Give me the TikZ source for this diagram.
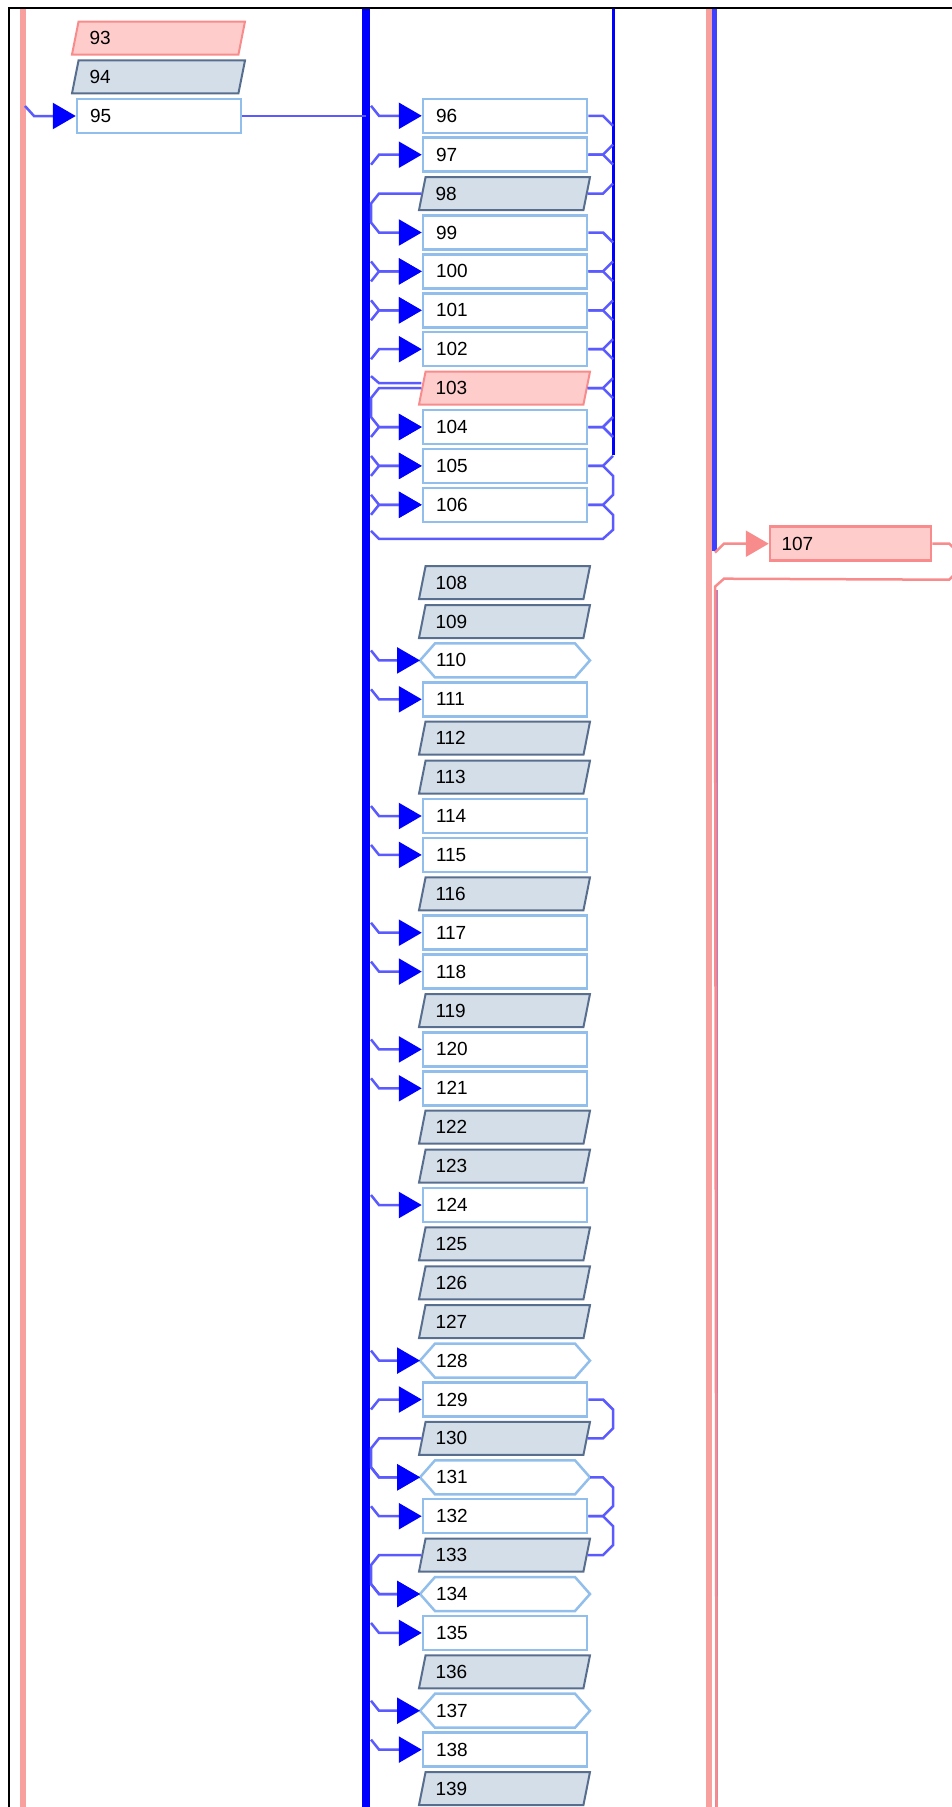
\documentclass[tikz,border=0pt]{standalone}
\usepackage{fontspec}
\setmainfont{Liberation Sans}
\usepackage{tikz}
\usetikzlibrary{arrows.meta,positioning,calc,shapes.geometric}

\definecolor{boxedge}{RGB}{146,190,236}
\definecolor{slate}{RGB}{88,110,142}
\definecolor{slatefill}{RGB}{212,222,233}
\definecolor{pinkedge}{RGB}{248,140,140}
\definecolor{pinkfill}{RGB}{255,204,204}
\definecolor{trunkpink}{RGB}{248,160,158}
\definecolor{linkblue}{RGB}{90,90,255}
\definecolor{mauve}{RGB}{196,120,180}

\begin{document}
\begin{tikzpicture}[x=1pt,y=-1pt,font=\fontsize{19}{22}\selectfont,
  box/.style={rectangle,draw=boxedge,fill=white,line width=2.5pt,
    minimum width=164pt,minimum height=34pt,inner sep=0pt,
    text width=138pt,align=left},
  para/.style={trapezium,draw=slate,fill=slatefill,line width=2pt,
    trapezium left angle=64,trapezium right angle=116,trapezium stretches body,
    minimum width=171pt,minimum height=33pt,inner sep=0pt,
    text width=138pt,align=left},
  pinkpara/.style={para,draw=pinkedge,fill=pinkfill},
  hexa/.style={rectangle,minimum width=170pt,minimum height=34pt,inner sep=0pt,
    outer sep=0pt,text width=138pt,align=left},
  hexedge/.style={draw=boxedge,line width=2.5pt,line join=miter},
  link/.style={draw=linkblue,line width=2.5pt},
  feed/.style={link,-{Triangle[length=23pt,width=26pt,color=blue]}},
  pinklink/.style={draw=pinkedge,line width=2.5pt}]

  \useasboundingbox (0,0) rectangle (952,1807);

  % trunks
  \draw[trunkpink,line width=6pt] (23,8) -- (23,1807);
  \draw[blue,line width=8pt] (366,8) -- (366,1807);
  \draw[blue,line width=3pt] (613,8) -- (613,455);
  \draw[trunkpink,line width=6pt] (709,8) -- (709,1807);
  \draw[blue!75,line width=5pt] (714.5,8) -- (714.5,551);
  \draw[mauve,line width=3pt] (716.5,590) -- (716.5,1807);

  \coordinate (bus) at (366,0);
  \coordinate (lane) at (371,0);
  \coordinate (knee) at (379,0);
  \coordinate (rtrunk) at (613,0);
  \coordinate (rknee) at (603,0);
  \coordinate (ltrunk) at (25,0);
  \coordinate (lknee) at (34,0);
  \coordinate (ptrunk) at (715,0);
  \coordinate (pknee) at (724,0);
  \coordinate (exit) at (716.5,1807);

  % left column
  \node[pinkpara,minimum width=173pt] (n93) at (158.5,38) {93};
  \node[para,minimum width=173pt] (n94) at (158.5,76.9) {94};
  \node[box] (n95) at (159,116) {95};

  % middle column
  \foreach \n in {96,97,99,100,101,102,104,105,106,111,114,115,117,118,120,121,124,129,132,135,138}
    \node[box] (n\n) at (505,{38+38.9*(\n-94)}) {\n};
  \foreach \n in {98,108,109,112,113,116,119,122,123,125,126,127,130,133,136,139}
    \node[para] (n\n) at (504.5,{38+38.9*(\n-94)}) {\n};
  \node[pinkpara] (n103) at (504.5,{38+38.9*9}) {103};
  \foreach \n in {110,128,131,134,137}{
    \node[hexa] (n\n) at (505,{38+38.9*(\n-94)}) {\n};
    \draw[hexedge] (n\n.west) -- ([xshift=15pt]n\n.north west) -- ([xshift=-15pt]n\n.north east)
      -- (n\n.east) -- ([xshift=-15pt]n\n.south east) -- ([xshift=15pt]n\n.south west) -- cycle;
  }

  % right column
  \node[box,draw=pinkedge,fill=pinkfill,minimum width=161pt] (n107) at (850.5,{38+38.9*13}) {107};

  % into 95 and on to the trunk
  \draw[feed] ([yshift=10pt]n95.west -| ltrunk) -- (n95.west -| lknee) -- (n95.west);
  \draw[link] (n95.east) -- (n95.east -| bus);

  % feeds from the trunk
  \foreach \n in {96,100,101,105,106,110,111,114,115,117,118,120,121,124,128,131,132,134,135,137,138}
    \draw[feed] ([yshift=10pt]n\n.west -| lane) -- (n\n.west -| knee) -- (n\n.west);
  \foreach \n in {97,100,101,102,104,105,106,129}
    \draw[feed] ([yshift=-10pt]n\n.west -| lane) -- (n\n.west -| knee) -- (n\n.west);
  \foreach \a/\b in {98/99,103/104,130/131,133/134}
    \draw[feed] (n\a.west) -- (n\a.west -| knee) -- ([yshift=-10pt]n\a.west -| lane)
      -- ([yshift=10pt]n\b.west -| lane) -- (n\b.west -| knee) -- (n\b.west);
  \draw[link] ([yshift=5pt]n103.west) -- ([yshift=5pt]n103.west -| knee) -- ([yshift=12pt]n103.west -| lane);

  % right side
  \foreach \n in {97,98,100,101,102,103,104,105}
    \draw[link] (n\n.east) -- (n\n.east -| rknee) -- ([yshift=10pt]n\n.east -| rtrunk);
  \foreach \n in {96,97,99,100,101,102,103,104}
    \draw[link] (n\n.east) -- (n\n.east -| rknee) -- ([yshift=-10pt]n\n.east -| rtrunk);
  \foreach \a/\b in {105/106,129/130,131/132,132/133}
    \draw[link] (n\a.east) -- (n\a.east -| rknee) -- ([yshift=-10pt]n\a.east -| rtrunk)
      -- ([yshift=10pt]n\b.east -| rtrunk) -- (n\b.east -| rknee) -- (n\b.east);
  \draw[link] (n106.east) -- (n106.east -| rknee) -- ([yshift=-10pt]n106.east -| rtrunk)
    -- ([yshift=-25pt]n106.east -| rtrunk) -- ([yshift=-34pt]n106.east -| rknee)
    -- ([yshift=-34pt]n106.west -| knee) -- ([yshift=-26pt]n106.west -| lane);

  % 107
  \draw[pinklink,-{Triangle[length=23pt,width=26pt,color=pinkedge]}]
    ([yshift=-9pt]n107.west -| ptrunk) -- (n107.west -| pknee) -- (n107.west);
  \draw[pinklink] (n107.east) -- ++(17pt,0pt) -- ++(8pt,-8pt) -- ++(0pt,-20pt) -- ++(-8pt,-8pt)
    -- ([yshift=-35pt]n107.west -| pknee) -- ([yshift=-43pt]n107.west -| ptrunk) -- (exit);

  % frame
  \draw[line width=1.3pt] (9,1807) -- (9,8) -- (952,8);
\end{tikzpicture}
\end{document}
